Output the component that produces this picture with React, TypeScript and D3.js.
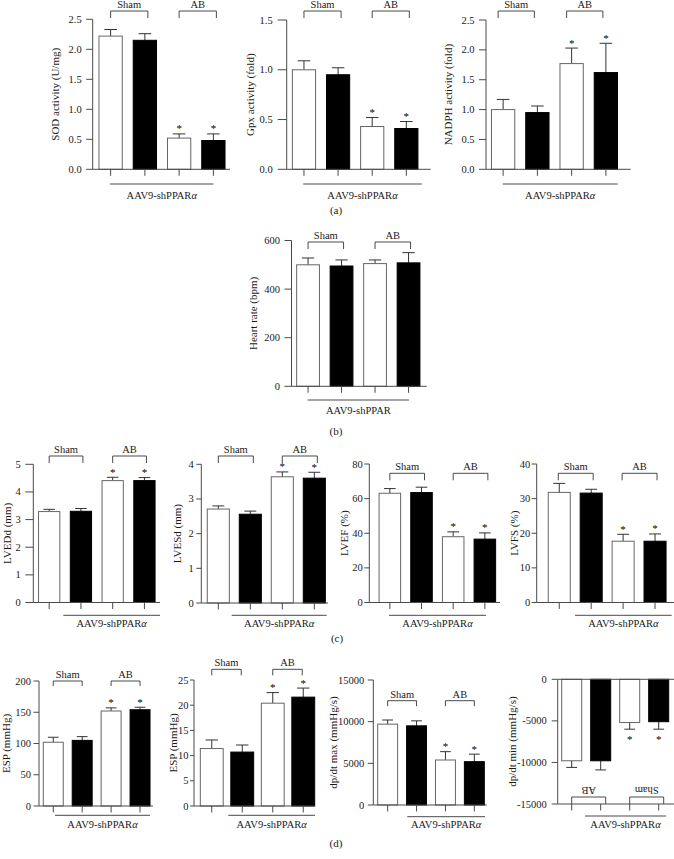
import React from "react";
import * as d3 from "d3";

// ---------- data ----------
const groups = ["Sham-control", "Sham-shPPARα", "AB-control", "AB-shPPARα"];
const bracketNames = ["Sham", "AB"];
const bracketNamesFlipped = ["AB", "Sham"];
const xAxisLabel = "AAV9-shPPAR";

const sodValues = [2.22, 2.15, 0.52, 0.48];
const sodErrors = [0.11, 0.11, 0.07, 0.11];
const sodTicks = [0, 0.5, 1, 1.5, 2, 2.5];

const gpxValues = [1.0, 0.95, 0.43, 0.41];
const gpxErrors = [0.09, 0.07, 0.09, 0.07];
const gpxTicks = [0, 0.5, 1, 1.5];

const nadphValues = [1.0, 0.95, 1.77, 1.62];
const nadphErrors = [0.17, 0.11, 0.26, 0.49];
const nadphTicks = [0, 0.5, 1, 1.5, 2, 2.5];

const heartValues = [500, 495, 505, 508];
const heartErrors = [28, 25, 15, 42];
const heartTicks = [0, 200, 400, 600];

const lveddValues = [3.29, 3.3, 4.41, 4.41];
const lveddErrors = [0.08, 0.1, 0.12, 0.11];
const lveddTicks = [0, 1, 2, 3, 4, 5];

const lvesdValues = [2.71, 2.56, 3.64, 3.6];
const lvesdErrors = [0.09, 0.09, 0.14, 0.17];
const lvesdTicks = [0, 1, 2, 3, 4];

const lvefValues = [63.1, 63.5, 38.0, 36.6];
const lvefErrors = [2.7, 3.1, 2.8, 3.6];
const lvefTicks = [0, 20, 40, 60, 80];

const lvfsValues = [31.8, 31.6, 17.7, 17.7];
const lvfsErrors = [2.6, 1.1, 2.0, 2.1];
const lvfsTicks = [0, 10, 20, 30, 40];

const espValues = [102, 105, 152, 154];
const espErrors = [8, 6, 5, 4];
const espTicks = [0, 50, 100, 150, 200];

const esp2Values = [11.4, 10.7, 20.4, 21.6];
const esp2Errors = [1.7, 1.4, 2.1, 1.8];
const esp2Ticks = [0, 5, 10, 15, 20, 25];

const dpMaxValues = [9700, 9500, 5400, 5200];
const dpMaxErrors = [500, 600, 1000, 900];
const dpMaxTicks = [0, 5000, 10000, 15000];

const dpMinValues = [-9800, -9800, -5200, -5100];
const dpMinErrors = [800, 1100, 800, 900];
const dpMinTicks = [-15000, -10000, -5000, 0];

const sigAB = [false, false, true, true];
const sigNone = [false, false, false, false];

const panelLetters = ["(a)", "(b)", "(c)", "(d)"];

// ---------- layout ----------
type Layout = {
  axisX: number; axisEnd: number; yTop: number; yBase: number;
  band: [number, number]; pad: number;
  bracketY: number; bracketLen: number; bdx: [number, number];
  ul: [number, number]; ulY: number; xLabelY: number;
  yLabelX: number; tickLen: number; labelGap: number;
};

type ChartCfg = {
  values: number[]; errors: number[]; sig: boolean[]; ticks: number[];
  fmt: (v: number) => string; yLabel: string; alpha: boolean;
  brackets: string[]; flipped?: boolean; L: Layout;
};

const f1 = d3.format(".1f");
const fInt = (v: number) => String(v);

const charts: ChartCfg[] = [
  {
    values: sodValues, errors: sodErrors, sig: sigAB, ticks: sodTicks, fmt: f1,
    yLabel: "SOD activity (U/mg)", alpha: true, brackets: bracketNames,
    L: { axisX: 92.7, axisEnd: 230, yTop: 19.3, yBase: 169.3, band: [93.5, 230.5], pad: 0.32,
      bracketY: 11, bracketLen: 7, bdx: [0, 3], ul: [110, 213.5], ulY: 184, xLabelY: 198.5, yLabelX: 55,
      tickLen: 6.5, labelGap: 11 },
  },
  {
    values: gpxValues, errors: gpxErrors, sig: sigAB, ticks: gpxTicks, fmt: f1,
    yLabel: "Gpx activity (fold)", alpha: true, brackets: bracketNames,
    L: { axisX: 286.7, axisEnd: 430.7, yTop: 20, yBase: 169.3, band: [286.9, 423.4], pad: 0.32,
      bracketY: 11, bracketLen: 7, bdx: [0, 3], ul: [303.3, 421.7], ulY: 184, xLabelY: 198.5, yLabelX: 250,
      tickLen: 9, labelGap: 14 },
  },
  {
    values: nadphValues, errors: nadphErrors, sig: sigAB, ticks: nadphTicks, fmt: f1,
    yLabel: "NADPH activity (fold)", alpha: true, brackets: bracketNames,
    L: { axisX: 486, axisEnd: 630.7, yTop: 20, yBase: 169.3, band: [486, 623], pad: 0.32,
      bracketY: 11, bracketLen: 7, bdx: [-5, -3], ul: [502.7, 617.7], ulY: 184, xLabelY: 198.5, yLabelX: 448,
      tickLen: 7, labelGap: 11.5 },
  },
  {
    values: heartValues, errors: heartErrors, sig: sigNone, ticks: heartTicks, fmt: fInt,
    yLabel: "Heart rate (bpm)", alpha: false, brackets: bracketNames,
    L: { axisX: 291.5, axisEnd: 426.7, yTop: 240.5, yBase: 386.3, band: [291.3, 425.3], pad: 0.32,
      bracketY: 242, bracketLen: 7, bdx: [0, 2], ul: [307.7, 409], ulY: 400, xLabelY: 413.5, yLabelX: 253,
      tickLen: 7, labelGap: 11.5 },
  },
  {
    values: lveddValues, errors: lveddErrors, sig: sigAB, ticks: lveddTicks, fmt: fInt,
    yLabel: "LVEDd (mm)", alpha: true, brackets: bracketNames,
    L: { axisX: 33.3, axisEnd: 160, yTop: 464.3, yBase: 602.5, band: [33.3, 160.3], pad: 0.33,
      bracketY: 456, bracketLen: 7, bdx: [0, 2], ul: [63.3, 160], ulY: 615.3, xLabelY: 626.5, yLabelX: 7,
      tickLen: 8, labelGap: 12.5 },
  },
  {
    values: lvesdValues, errors: lvesdErrors, sig: sigAB, ticks: lvesdTicks, fmt: fInt,
    yLabel: "LVESd (mm)", alpha: true, brackets: bracketNames,
    L: { axisX: 201.3, axisEnd: 328, yTop: 464.3, yBase: 603, band: [202.3, 330.3], pad: 0.31,
      bracketY: 456, bracketLen: 7, bdx: [0, 3], ul: [231.7, 326.7], ulY: 615.3, xLabelY: 626.5, yLabelX: 177,
      tickLen: 5, labelGap: 7.5 },
  },
  {
    values: lvefValues, errors: lvefErrors, sig: sigAB, ticks: lvefTicks, fmt: fInt,
    yLabel: "LVEF (%)", alpha: true, brackets: bracketNames,
    L: { axisX: 369.3, axisEnd: 500, yTop: 464, yBase: 602.5, band: [374, 500.7], pad: 0.32,
      bracketY: 473.3, bracketLen: 7, bdx: [0, 3], ul: [389, 486], ulY: 615.3, xLabelY: 626.5, yLabelX: 344,
      tickLen: 5, labelGap: 6.5 },
  },
  {
    values: lvfsValues, errors: lvfsErrors, sig: sigAB, ticks: lvfsTicks, fmt: fInt,
    yLabel: "LVFS (%)", alpha: true, brackets: bracketNames,
    L: { axisX: 536.7, axisEnd: 674, yTop: 464, yBase: 602.5, band: [543.3, 671], pad: 0.31,
      bracketY: 473.3, bracketLen: 7, bdx: [-1, 2], ul: [575, 671.7], ulY: 615.3, xLabelY: 626.5, yLabelX: 514,
      tickLen: 5, labelGap: 6.5 },
  },
  {
    values: espValues, errors: espErrors, sig: sigAB, ticks: espTicks, fmt: fInt,
    yLabel: "ESP (mmHg)", alpha: true, brackets: bracketNames,
    L: { axisX: 39, axisEnd: 153, yTop: 681, yBase: 806, band: [38.8, 154.5], pad: 0.31,
      bracketY: 681, bracketLen: 5, bdx: [0, 0], ul: [55, 150], ulY: 815.3, xLabelY: 827.5, yLabelX: 6,
      tickLen: 5.5, labelGap: 8 },
  },
  {
    values: esp2Values, errors: esp2Errors, sig: sigAB, ticks: esp2Ticks, fmt: fInt,
    yLabel: "ESP (mmHg)", alpha: true, brackets: bracketNames,
    L: { axisX: 194, axisEnd: 315, yTop: 680, yBase: 806, band: [196.5, 318.5], pad: 0.25,
      bracketY: 669.3, bracketLen: 6, bdx: [0, -1], ul: [228.3, 315], ulY: 815.3, xLabelY: 827.5, yLabelX: 173,
      tickLen: 4, labelGap: 5.5 },
  },
  {
    values: dpMaxValues, errors: dpMaxErrors, sig: sigAB, ticks: dpMaxTicks, fmt: fInt,
    yLabel: "dp/dt max (mmHg/s)", alpha: true, brackets: bracketNames,
    L: { axisX: 373.3, axisEnd: 486.7, yTop: 680, yBase: 805, band: [373.2, 488.8], pad: 0.31,
      bracketY: 700.7, bracketLen: 5.5, bdx: [0, 0], ul: [407.3, 485], ulY: 816.7, xLabelY: 828, yLabelX: 333,
      tickLen: 5.5, labelGap: 9 },
  },
  {
    values: dpMinValues, errors: dpMinErrors, sig: sigAB, ticks: dpMinTicks, fmt: fInt,
    yLabel: "dp/dt min (mmHg/s)", alpha: true, brackets: bracketNamesFlipped, flipped: true,
    L: { axisX: 557.7, axisEnd: 674, yTop: 679.3, yBase: 804, band: [557.2, 673.2], pad: 0.31,
      bracketY: 797, bracketLen: 7, bdx: [0, 5], ul: [585, 666], ulY: 816, xLabelY: 827.5, yLabelX: 512,
      tickLen: 6, labelGap: 11 },
  },
];

const panelLetterPos = [
  [336, 213.5],
  [336, 435],
  [337, 641.5],
  [336, 847],
];

const AXIS = "#4a4a4a";
const TEXT = "#1a1a1a";
const FONT = "'Liberation Serif', 'Times New Roman', serif";
const TICK_FS = 10.5;
const LABEL_FS = 11;
const XLABEL_FS = 10.5;
const BRACKET_FS = 10.5;

function Chart({ cfg }: { cfg: ChartCfg }) {
  const { values, errors, sig, ticks, fmt, yLabel, alpha, brackets, flipped, L } = cfg;
  const domain = d3.extent(ticks) as [number, number];
  const y = d3.scaleLinear().domain(domain).range([L.yBase, L.yTop]);
  const x = d3
    .scaleBand<string>()
    .domain(groups)
    .range(L.band)
    .paddingInner(L.pad)
    .paddingOuter(L.pad / 2);
  const bw = x.bandwidth();
  const cx = (i: number) => (x(groups[i]) as number) + bw / 2;
  const zeroY = y(0);
  const catAxisY = flipped ? y(domain[0]) : y(0);
  const capHalf = bw * 0.27;

  return (
    <g>
      <line x1={L.axisX} x2={L.axisX} y1={y(domain[1])} y2={y(domain[0])} stroke={AXIS} strokeWidth={1} />
      {ticks.map((t) => (
        <g key={t}>
          <line x1={L.axisX - L.tickLen} x2={L.axisX} y1={y(t)} y2={y(t)} stroke={AXIS} strokeWidth={1} />
          <text x={L.axisX - L.labelGap} y={y(t)} textAnchor="end" dominantBaseline="central" fontSize={TICK_FS} fill={TEXT}>
            {fmt(t)}
          </text>
        </g>
      ))}
      <text
        transform={`translate(${L.yLabelX},${(L.yTop + L.yBase) / 2}) rotate(-90)`}
        textAnchor="middle"
        dominantBaseline="central"
        fontSize={LABEL_FS}
        fill={TEXT}
      >
        {yLabel}
      </text>
      {values.map((v, i) => {
        const x0 = x(groups[i]) as number;
        const top = Math.min(y(v), zeroY);
        const h = Math.abs(y(v) - zeroY);
        const black = i % 2 === 1;
        const tip = v >= 0 ? v + errors[i] : v - errors[i];
        const barEnd = y(v);
        return (
          <g key={groups[i]}>
            <line x1={cx(i)} x2={cx(i)} y1={barEnd} y2={y(tip)} stroke="#333" strokeWidth={1} />
            <line x1={cx(i) - capHalf} x2={cx(i) + capHalf} y1={y(tip)} y2={y(tip)} stroke="#333" strokeWidth={1} />
            <rect
              x={x0}
              y={top}
              width={bw}
              height={h}
              fill={black ? "#000" : "#fff"}
              stroke={black ? "#000" : "#666"}
              strokeWidth={1}
            />
            {sig[i] && (
              <text
                x={cx(i)}
                y={v >= 0 ? y(tip) - 1.5 : y(tip) + 13.5}
                textAnchor="middle"
                fontSize={11}
                fill="#000"
              >
                *
              </text>
            )}
          </g>
        );
      })}
      <line x1={L.axisX} x2={L.axisEnd} y1={catAxisY} y2={catAxisY} stroke={AXIS} strokeWidth={1} />
      {flipped && <line x1={L.axisX} x2={L.axisEnd} y1={zeroY} y2={zeroY} stroke={AXIS} strokeWidth={1} />}
      {groups.map((g, i) => (
        <line key={g} x1={cx(i)} x2={cx(i)} y1={catAxisY} y2={catAxisY + 6.5} stroke={AXIS} strokeWidth={1} />
      ))}
      {brackets.map((name, k) => {
        const a = cx(2 * k) + L.bdx[0];
        const b = cx(2 * k + 1) + L.bdx[1];
        const by = L.bracketY;
        return (
          <g key={name}>
            <path
              d={`M${a},${by + L.bracketLen}V${by}H${b}V${by + L.bracketLen}`}
              fill="none"
              stroke={AXIS}
              strokeWidth={1}
            />
            {flipped ? (
              <text
                transform={`translate(${(a + b) / 2},${by - 7}) rotate(180)`}
                textAnchor="middle"
                dominantBaseline="central"
                fontSize={BRACKET_FS}
                fill={TEXT}
              >
                {name}
              </text>
            ) : (
              <text x={(a + b) / 2} y={by - 3} textAnchor="middle" fontSize={BRACKET_FS} fill={TEXT}>
                {name}
              </text>
            )}
          </g>
        );
      })}
      <line x1={L.ul[0]} x2={L.ul[1]} y1={L.ulY} y2={L.ulY} stroke={AXIS} strokeWidth={1} />
      <text x={(L.ul[0] + L.ul[1]) / 2} y={L.xLabelY} textAnchor="middle" fontSize={XLABEL_FS} fill={TEXT}>
        {xAxisLabel}
        {alpha && <tspan fontStyle="italic">α</tspan>}
      </text>
    </g>
  );
}

export default function App() {
  return (
    <svg
      width={674}
      height={859}
      viewBox="0 0 674 859"
      style={{ position: "absolute", left: 0, top: 0, background: "#fff" }}
      fontFamily={FONT}
    >
      <rect x={0} y={0} width={674} height={859} fill="#fff" />
      {charts.map((c, i) => (
        <Chart key={i} cfg={c} />
      ))}
      {panelLetters.map((t, i) => (
        <text key={t} x={panelLetterPos[i][0]} y={panelLetterPos[i][1]} textAnchor="middle" fontSize={11} fill={TEXT}>
          {t}
        </text>
      ))}
    </svg>
  );
}
